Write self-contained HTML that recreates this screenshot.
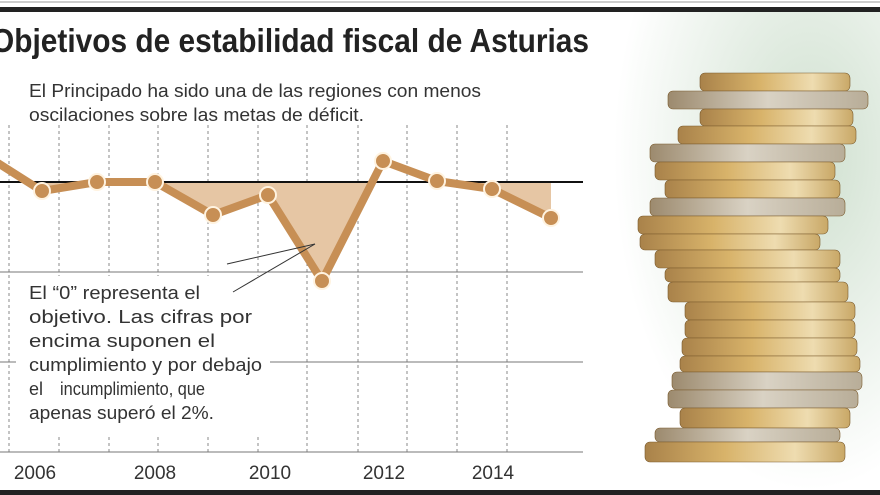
<!DOCTYPE html>
<html><head><meta charset="utf-8"><style>
body{margin:0;width:880px;height:495px;overflow:hidden;background:#fff;font-family:"Liberation Sans",sans-serif;position:relative}
</style></head><body>
<svg width="880" height="495" style="position:absolute;left:0;top:0">
<defs>
<radialGradient id="bg" cx="0.75" cy="0.3" r="0.7"><stop offset="0" stop-color="#cfe0cf"/><stop offset="1" stop-color="#fff"/></radialGradient>
<linearGradient id="gold" x1="0" x2="1"><stop offset="0" stop-color="#a9824a"/><stop offset="0.4" stop-color="#d8b36a"/><stop offset="0.75" stop-color="#eedcb0"/><stop offset="1" stop-color="#c9a867"/></linearGradient>
<linearGradient id="silver" x1="0" x2="1"><stop offset="0" stop-color="#9c8a6e"/><stop offset="0.5" stop-color="#d9d2c4"/><stop offset="1" stop-color="#b8ad98"/></linearGradient>
</defs>
<rect x="600" y="12" width="280" height="478" fill="url(#bg)"/>
<g stroke="#7a5a2c" stroke-width="0.6">
<rect x="700" y="73" width="150" height="18" rx="5" fill="url(#gold)"/>
<rect x="668" y="91" width="200" height="18" rx="5" fill="url(#silver)"/>
<rect x="700" y="109" width="153" height="17" rx="5" fill="url(#gold)"/>
<rect x="678" y="126" width="178" height="18" rx="5" fill="url(#gold)"/>
<rect x="650" y="144" width="195" height="18" rx="5" fill="url(#silver)"/>
<rect x="655" y="162" width="180" height="18" rx="5" fill="url(#gold)"/>
<rect x="665" y="180" width="175" height="18" rx="5" fill="url(#gold)"/>
<rect x="650" y="198" width="195" height="18" rx="5" fill="url(#silver)"/>
<rect x="638" y="216" width="190" height="18" rx="5" fill="url(#gold)"/>
<rect x="640" y="234" width="180" height="16" rx="5" fill="url(#gold)"/>
<rect x="655" y="250" width="185" height="18" rx="5" fill="url(#gold)"/>
<rect x="665" y="268" width="175" height="14" rx="5" fill="url(#gold)"/>
<rect x="668" y="282" width="180" height="20" rx="5" fill="url(#gold)"/>
<rect x="685" y="302" width="170" height="18" rx="5" fill="url(#gold)"/>
<rect x="685" y="320" width="170" height="18" rx="5" fill="url(#gold)"/>
<rect x="682" y="338" width="175" height="18" rx="5" fill="url(#gold)"/>
<rect x="680" y="356" width="180" height="16" rx="5" fill="url(#gold)"/>
<rect x="672" y="372" width="190" height="18" rx="5" fill="url(#silver)"/>
<rect x="668" y="390" width="190" height="18" rx="5" fill="url(#silver)"/>
<rect x="680" y="408" width="170" height="20" rx="5" fill="url(#gold)"/>
<rect x="655" y="428" width="185" height="14" rx="5" fill="url(#silver)"/>
<rect x="645" y="442" width="200" height="20" rx="5" fill="url(#gold)"/>
</g>
<line x1="0" y1="2" x2="880" y2="2" stroke="#999" stroke-width="1"/>
<rect x="0" y="7" width="880" height="5" fill="#222"/>
<rect x="0" y="490" width="880" height="5" fill="#222"/>
<g stroke="#888" stroke-width="1" stroke-dasharray="3,3">
<line x1="9" y1="125" x2="9" y2="452"/><line x1="59" y1="125" x2="59" y2="452"/><line x1="109" y1="125" x2="109" y2="452"/><line x1="158" y1="125" x2="158" y2="452"/><line x1="208" y1="125" x2="208" y2="452"/><line x1="258" y1="125" x2="258" y2="452"/><line x1="307" y1="125" x2="307" y2="452"/><line x1="358" y1="125" x2="358" y2="452"/><line x1="407" y1="125" x2="407" y2="452"/><line x1="457" y1="125" x2="457" y2="452"/><line x1="507" y1="125" x2="507" y2="452"/>
</g>
<g stroke="#777" stroke-width="1"><line x1="0" y1="272" x2="583" y2="272"/><line x1="0" y1="362" x2="583" y2="362"/><line x1="0" y1="452" x2="583" y2="452"/></g>
<polygon points="155,182 213,215 268,195 322,281 372,182" fill="#e6c6a4"/>
<polygon points="437,181 492,189 551,218 551,182" fill="#e6c6a4"/>
<polygon points="20,182 42,191 97,182" fill="#e6c6a4"/>
<line x1="0" y1="182" x2="583" y2="182" stroke="#111" stroke-width="2"/>
<polyline points="-10,158 42,191 97,182 155,182 213,215 268,195 322,281 383,161 437,181 492,189 551,218" fill="none" stroke="#c78f55" stroke-width="8" stroke-linejoin="round"/>
<g fill="#c78f55" stroke="#fff3e0" stroke-width="2">
<circle cx="42" cy="191" r="8"/><circle cx="97" cy="182" r="8"/><circle cx="155" cy="182" r="8"/><circle cx="213" cy="215" r="8"/><circle cx="268" cy="195" r="8"/><circle cx="322" cy="281" r="8"/><circle cx="383" cy="161" r="8"/><circle cx="437" cy="181" r="8"/><circle cx="492" cy="189" r="8"/><circle cx="551" cy="218" r="8"/>
</g>
<rect x="16" y="276" width="254" height="158" fill="#fff"/>
<g stroke="#333" stroke-width="1"><line x1="227" y1="264" x2="315" y2="244"/><line x1="233" y1="292" x2="315" y2="244"/></g>
<g font-family="Liberation Sans,sans-serif" font-size="18" fill="#333">
<text x="29" y="299" textLength="171" lengthAdjust="spacingAndGlyphs">El “0” representa el</text>
<text x="29" y="323" textLength="223" lengthAdjust="spacingAndGlyphs">objetivo. Las cifras por</text>
<text x="29" y="347" textLength="186" lengthAdjust="spacingAndGlyphs">encima suponen el</text>
<text x="29" y="371" textLength="233" lengthAdjust="spacingAndGlyphs">cumplimiento y por debajo</text>
<text x="29" y="395">el</text>
<text x="60" y="395" textLength="145" lengthAdjust="spacingAndGlyphs">incumplimiento, que</text>
<text x="29" y="419" textLength="185" lengthAdjust="spacingAndGlyphs">apenas superó el 2%.</text>
<text x="29" y="97" textLength="452" lengthAdjust="spacingAndGlyphs">El Principado ha sido una de las regiones con menos</text>
<text x="29" y="121" textLength="335" lengthAdjust="spacingAndGlyphs">oscilaciones sobre las metas de déficit.</text>
</g>
<g font-family="Liberation Sans,sans-serif" font-size="19" fill="#333" text-anchor="middle">
<text x="35" y="479">2006</text><text x="155" y="479">2008</text><text x="270" y="479">2010</text><text x="384" y="479">2012</text><text x="493" y="479">2014</text>
</g>
<text x="-9" y="52" font-family="Liberation Sans,sans-serif" font-weight="bold" font-size="33" fill="#222" textLength="598" lengthAdjust="spacingAndGlyphs">Objetivos de estabilidad fiscal de Asturias</text>
</svg>
</body></html>
